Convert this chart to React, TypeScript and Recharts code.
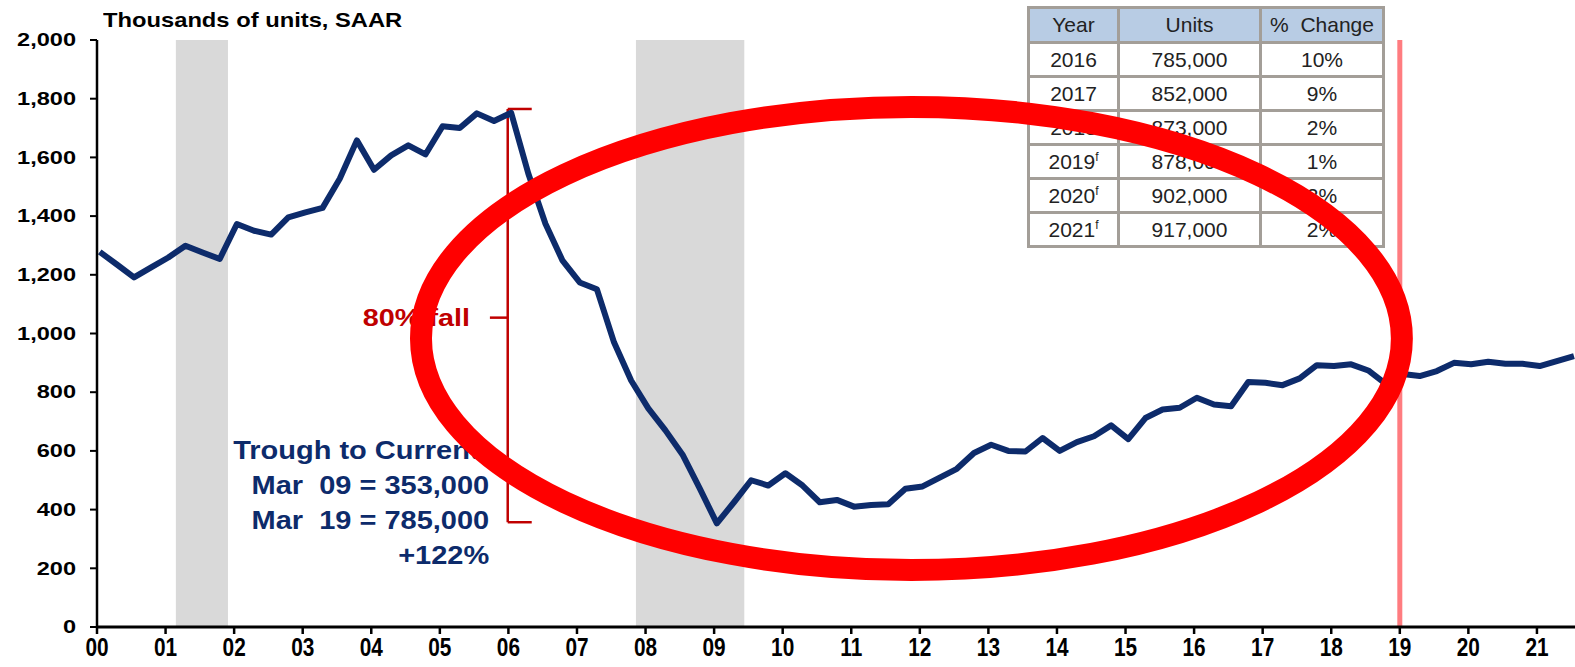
import React from 'react'
import {
  LineChart,
  Line,
  XAxis,
  YAxis,
  ReferenceArea,
  ReferenceLine,
  ReferenceDot,
} from 'recharts'

// single-family starts, thousands SAAR, quarterly from 2000 Q1
const starts = [
  1278, 1235, 1191, 1225, 1259, 1299, 1276, 1254, 1373, 1350,
  1337, 1396, 1413, 1428, 1527, 1658, 1558, 1607, 1641, 1610,
  1706, 1700, 1750, 1724, 1752, 1545, 1374, 1248, 1174, 1151,
  970, 840, 745, 670, 587, 472, 353, 425, 500, 482,
  524, 482, 425, 433, 410, 416, 418, 471, 479, 509,
  539, 593, 621, 600, 598, 644, 600, 630, 650, 687,
  640, 712, 741, 747, 781, 758, 752, 835, 832, 824,
  847, 892, 889, 895, 874, 829, 862, 855, 872, 900,
  895, 904, 897, 897, 889, 906, 923,
]

const recessionStart = [1.15, 7.86]
const recessionEnd = [1.91, 9.44]

const yearTicks = [0, 1, 2, 3, 4, 5, 6, 7, 8, 9, 10, 11, 12, 13, 14, 15, 16, 17, 18, 19, 20, 21]
const valueTicks = [0, 200, 400, 600, 800, 1000, 1200, 1400, 1600, 1800, 2000]

const tableYears = ['2016', '2017', '2018', '2019', '2020', '2021']
const tableForecast = [false, false, false, true, true, true]
const tableUnits = ['785,000', '852,000', '873,000', '878,000', '902,000', '917,000']
const tableChange = ['10%', '9%', '2%', '1%', '3%', '2%']

const troughLines = ['Trough to Current:', 'Mar  09 = 353,000', 'Mar  19 = 785,000', '+122%']

const data = starts.map((v, i) => ({ t: i * 0.25 + 0.04, v }))

const NAVY = '#0d2b6b'
const DARKRED = '#c00000'
const FONT = '"Liberation Sans", Arial, sans-serif'

const YTick = (props: any) => {
  const { x, y, payload } = props
  return (
    <text
      transform={`translate(${x},${y}) scale(1.24,1)`}
      textAnchor="end"
      dominantBaseline="central"
      fontSize={19}
      fontWeight="bold"
      fontFamily={FONT}
      fill="#000"
    >
      {payload.value.toLocaleString('en-US')}
    </text>
  )
}

const XTick = (props: any) => {
  const { x, y, payload } = props
  return (
    <text
      transform={`translate(${x},${y + 20}) scale(0.8,1)`}
      textAnchor="middle"
      fontSize={26}
      fontWeight="bold"
      fontFamily={FONT}
      fill="#000"
    >
      {String(payload.value).padStart(2, '0')}
    </text>
  )
}

const cell: React.CSSProperties = {
  border: '3px solid #a39e98',
  textAlign: 'center',
  padding: 0,
}

const App = () => {
  return (
    <div style={{ position: 'absolute', left: 0, top: 0, width: 1575, height: 667, background: '#fff', fontFamily: FONT }}>
      <div
        style={{
          position: 'absolute',
          left: 103,
          top: 8,
          fontSize: 21,
          fontWeight: 'bold',
          transform: 'scaleX(1.13)',
          transformOrigin: 'left',
          whiteSpace: 'nowrap',
        }}
      >
        Thousands of units, SAAR
      </div>

      <table
        style={{
          position: 'absolute',
          left: 1027,
          top: 6,
          width: 355,
          borderCollapse: 'collapse',
          tableLayout: 'fixed',
          fontSize: 21,
          color: '#222',
          background: '#fff',
        }}
      >
        <colgroup>
          <col style={{ width: 90 }} />
          <col style={{ width: 142 }} />
          <col style={{ width: 123 }} />
        </colgroup>
        <thead>
          <tr style={{ height: 35, background: '#b8cce4' }}>
            <th style={{ ...cell, fontWeight: 'normal' }}>Year</th>
            <th style={{ ...cell, fontWeight: 'normal' }}>Units</th>
            <th style={{ ...cell, fontWeight: 'normal', whiteSpace: 'pre' }}>%  Change</th>
          </tr>
        </thead>
        <tbody>
          {tableYears.map((yr, i) => (
            <tr key={yr} style={{ height: 34 }}>
              <td style={cell}>
                {yr}
                {tableForecast[i] && <sup style={{ fontSize: 12 }}>f</sup>}
              </td>
              <td style={cell}>{tableUnits[i]}</td>
              <td style={cell}>{tableChange[i]}</td>
            </tr>
          ))}
        </tbody>
      </table>

      <div style={{ position: 'absolute', left: 0, top: 0 }}>
        <LineChart width={1575} height={667} data={data} margin={{ top: 40, right: 0, bottom: 0, left: 0 }}>
          {recessionStart.map((s, i) => (
            <ReferenceArea key={i} x1={s} x2={recessionEnd[i]} y1={0} y2={2000} fill="#d9d9d9" fillOpacity={1} stroke="none" />
          ))}
          <XAxis
            dataKey="t"
            type="number"
            domain={[0, 21.555]}
            ticks={yearTicks}
            interval={0}
            tick={<XTick />}
            tickSize={7}
            axisLine={{ stroke: '#000', strokeWidth: 3 }}
            tickLine={{ stroke: '#000', strokeWidth: 2.5 }}
            height={40}
            allowDataOverflow
          />
          <YAxis
            type="number"
            domain={[0, 2000]}
            ticks={valueTicks}
            interval={0}
            tick={<YTick />}
            tickSize={7}
            tickMargin={14}
            axisLine={{ stroke: '#000', strokeWidth: 2.5 }}
            tickLine={{ stroke: '#000', strokeWidth: 2 }}
            width={97}
          />
          <ReferenceLine x={19} stroke="#ff7c80" strokeWidth={5} />

          {/* 80% fall bracket */}
          <ReferenceLine segment={[{ x: 5.99, y: 1765 }, { x: 5.99, y: 357 }]} stroke={DARKRED} strokeWidth={2.5} />
          <ReferenceLine segment={[{ x: 5.99, y: 1765 }, { x: 6.34, y: 1765 }]} stroke={DARKRED} strokeWidth={2.5} />
          <ReferenceLine segment={[{ x: 5.99, y: 357 }, { x: 6.34, y: 357 }]} stroke={DARKRED} strokeWidth={2.5} />
          <ReferenceLine segment={[{ x: 5.73, y: 1054 }, { x: 5.99, y: 1054 }]} stroke={DARKRED} strokeWidth={2.5} />
          <ReferenceDot
            x={5.44}
            y={1054}
            r={0}
            shape={(p: any) => (
              <text
                transform={`translate(${p.cx},${p.cy}) scale(1.2,1)`}
                textAnchor="end"
                dominantBaseline="central"
                fontSize={24}
                fontWeight="bold"
                fontFamily={FONT}
                fill={DARKRED}
              >
                80% fall
              </text>
            )}
          />
          <ReferenceDot
            x={5.72}
            y={602}
            r={0}
            shape={(p: any) => (
              <g transform={`translate(${p.cx},${p.cy}) scale(1.16,1)`}>
                {troughLines.map((s, i) => (
                  <text
                    key={i}
                    x={0}
                    y={i * 35}
                    textAnchor="end"
                    dominantBaseline="central"
                    fontSize={25}
                    fontWeight="bold"
                    fontFamily={FONT}
                    fill={NAVY}
                    style={{ whiteSpace: 'pre' }}
                  >
                    {s}
                  </text>
                ))}
              </g>
            )}
          />

          <Line
            type="linear"
            dataKey="v"
            stroke={NAVY}
            strokeWidth={6}
            strokeLinejoin="round"
            dot={false}
            isAnimationActive={false}
          />

          <ReferenceArea
            x1={4.725}
            x2={19.03}
            y1={194}
            y2={1772}
            zIndex={2000}
            shape={(p: any) => (
              <ellipse
                cx={p.x + p.width / 2}
                cy={p.y + p.height / 2}
                rx={p.width / 2}
                ry={p.height / 2}
                fill="none"
                stroke="#ff0000"
                strokeWidth={22}
              />
            )}
          />
        </LineChart>
      </div>
    </div>
  )
}

export default App
